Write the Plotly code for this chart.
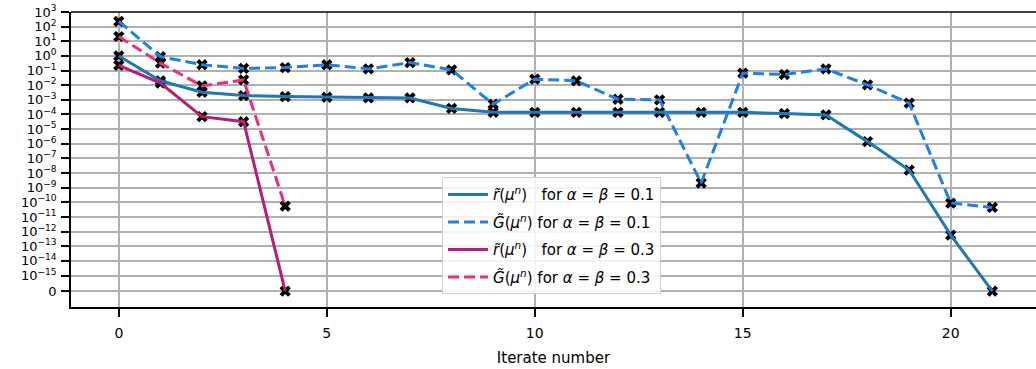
import numpy as np
import plotly.graph_objects as go

iterations_01 = list(range(22))
iterations_03 = list(range(5))

r_01 = [1.0, 2.0e-2, 3.3e-3, 1.95e-3, 1.66e-3, 1.5e-3, 1.35e-3, 1.35e-3, 2.6e-4, 1.4e-4,
        1.4e-4, 1.4e-4, 1.4e-4, 1.4e-4, 1.4e-4, 1.4e-4, 1.15e-4, 9.3e-5, 1.4e-6, 1.6e-8,
        5.8e-13, 0.0]
G_01 = [230.0, 0.9, 0.25, 0.14, 0.16, 0.25, 0.13, 0.35, 0.11, 5.0e-4,
        2.6e-2, 2.0e-2, 1.1e-3, 1.0e-3, 2.1e-9, 6.6e-2, 5.4e-2, 0.13, 1.05e-2, 5.9e-4,
        8.9e-11, 4.5e-11]
r_03 = [0.23, 1.4e-2, 7.1e-5, 3.2e-5, 0.0]
G_03 = [21.0, 0.32, 8.9e-3, 2.3e-2, 5.5e-11]

threshold = 1e-10
tick_exponents = list(range(3, -16, -1))
ZERO_POS = -16.07


def to_axis(vals):
    return [ZERO_POS if v == 0 else float(np.log10(v)) for v in vals]


tickvals = tick_exponents + [ZERO_POS]
ticktext = ["10<sup>%s</sup>" % (str(e).replace("-", "\u2212")) for e in tick_exponents] + ["0"]

series = [
    (iterations_01, r_01, "#1f77b4", "solid", "<i>r\u0303</i>(<i>\u03bc<sup>n</sup></i>)   for <i>\u03b1</i> = <i>\u03b2</i> = 0.1"),
    (iterations_01, G_01, "#1e7fe6", "dash", "<i>G\u0303</i>(<i>\u03bc<sup>n</sup></i>) for <i>\u03b1</i> = <i>\u03b2</i> = 0.1"),
    (iterations_03, r_03, "#b31e7b", "solid", "<i>r\u0303</i>(<i>\u03bc<sup>n</sup></i>)   for <i>\u03b1</i> = <i>\u03b2</i> = 0.3"),
    (iterations_03, G_03, "#e8307e", "dash", "<i>G\u0303</i>(<i>\u03bc<sup>n</sup></i>) for <i>\u03b1</i> = <i>\u03b2</i> = 0.3"),
]

fig = go.Figure()

for xs, ys, col, dash, name in series:
    fig.add_trace(go.Scatter(
        x=xs, y=to_axis(ys), mode="markers", showlegend=False,
        marker=dict(symbol="x", size=10, color="black", line=dict(width=0)),
        hoverinfo="skip"))

for i, (xs, ys, col, dash, name) in enumerate(series):
    fig.add_trace(go.Scatter(
        x=xs, y=to_axis(ys), mode="lines", name=name, legendgroup="g%d" % i,
        line=dict(color=col, width=3, dash="11px,5px" if dash == "dash" else "solid")))

fig.add_hline(y=float(np.log10(threshold)), line=dict(color="#e05555", width=1.3, dash="5px,3px"),
              layer="below")

fig.update_layout(
    width=1036, height=369,
    margin=dict(l=71, r=0, t=12, b=62),
    paper_bgcolor="white", plot_bgcolor="white",
    font=dict(family="DejaVu Sans", size=15, color="black"),
    legend=dict(
        x=0.3845, y=0.44, xanchor="left", yanchor="top",
        bgcolor="rgba(255,255,255,0.85)", bordercolor="#d0d0d0", borderwidth=1,
        font=dict(size=15), tracegroupgap=5, itemwidth=40,
    ),
    xaxis=dict(
        range=[-1.15, 22.05], tickvals=[0, 5, 10, 15, 20],
        showgrid=True, gridcolor="#b0b0b0", gridwidth=1.5,
        zeroline=False, showline=True, linecolor="black", linewidth=1.5, mirror=False,
        ticks="outside", ticklen=8, tickwidth=1.5, tickcolor="black",
        tickfont=dict(size=14), ticklabelstandoff=4,
        title=dict(text="Iterate number", font=dict(size=15), standoff=13),
    ),
    yaxis=dict(
        range=[-17.15, 3.0], tickvals=tickvals, ticktext=ticktext,
        showgrid=True, gridcolor="#b0b0b0", gridwidth=1.5,
        zeroline=False, showline=True, linecolor="black", linewidth=1.5,
        ticks="outside", ticklen=8, tickwidth=1.5, tickcolor="black",
        tickfont=dict(size=13), ticklabelstandoff=2,
    ),
)

# top spine
fig.add_shape(type="line", xref="paper", yref="paper", x0=0, x1=1, y0=1, y1=1,
              line=dict(color="black", width=1.5))

fig.write_html("out.html")
